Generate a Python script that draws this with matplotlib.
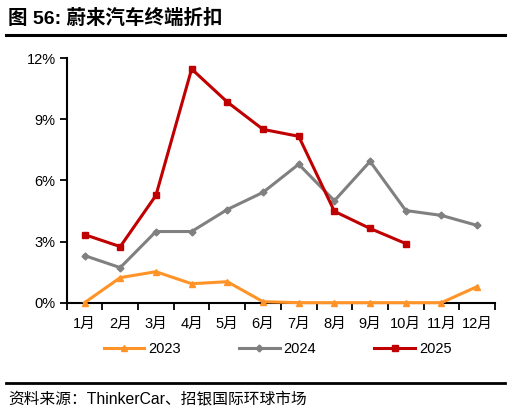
import matplotlib.pyplot as plt
from matplotlib.lines import Line2D
import numpy as np

plt.rcParams['font.family'] = ['Liberation Sans', 'Noto Sans CJK SC', 'DejaVu Sans']

months = ['1月', '2月', '3月', '4月', '5月', '6月', '7月', '8月', '9月', '10月', '11月', '12月']
disc_2023 = [0.0, 1.23, 1.52, 0.93, 1.03, 0.05, 0.0, 0.0, 0.0, 0.0, 0.0, 0.79]
disc_2024 = [2.31, 1.72, 3.49, 3.49, 4.57, 5.41, 6.79, 5.0, 6.93, 4.52, 4.28, 3.79]
disc_2025 = [3.34, 2.75, 5.26, 11.46, 9.84, 8.5, 8.16, 4.48, 3.64, 2.9]
yticks = [0, 3, 6, 9, 12]

W, H = 513, 416
fig = plt.figure(figsize=(W / 100, H / 100), dpi=100)
ax = fig.add_axes([66.7 / W, 1 - 302.7 / H, (495 - 66.7) / W, (302.7 - 58) / H])

x = np.arange(len(months))
ax.plot(x, disc_2023, color='#FF9327', lw=2.2, marker='^', ms=5, clip_on=False, zorder=3, label='2023')
ax.plot(x, disc_2024, color='#808080', lw=2.2, marker='D', ms=3.5, clip_on=False, zorder=3, label='2024')
ax.plot(x[:len(disc_2025)], disc_2025, color='#C00000', lw=2.2, marker='s', ms=4.5,
        clip_on=False, zorder=4, label='2025')

ax.set_xlim(-0.5, len(months) - 0.5)
ax.set_ylim(0, 12)
ax.set_yticks(yticks)
ax.set_yticklabels([f'{v}%' for v in yticks], fontsize=10.5)
ax.set_xticks(x)
ax.set_xticklabels(months, fontsize=10.5)
ax.set_xticks(np.arange(-0.5, len(months)), minor=True)
ax.tick_params(axis='x', which='major', length=0, pad=10)
ax.tick_params(axis='x', which='minor', length=5, width=1.3, direction='out')
ax.tick_params(axis='y', length=5, width=1.3, direction='out', pad=3)

for s in ['top', 'right']:
    ax.spines[s].set_visible(False)
for s in ['left', 'bottom']:
    ax.spines[s].set_linewidth(1.5)
    ax.spines[s].set_color('black')

leg = fig.legend(loc='center', bbox_to_anchor=(0.541, 1 - 349 / H), ncol=3, frameon=False,
                 fontsize=10.5, handlelength=2.8, columnspacing=4.0, handletextpad=0.25)

fig.text(8 / W, 1 - 18 / H, '图 56: 蔚来汽车终端折扣', fontsize=14, fontweight='bold',
         va='center', ha='left')
fig.add_artist(Line2D([6 / W, 505 / W], [1 - 35 / H, 1 - 35 / H], color='black', lw=2.2))
fig.add_artist(Line2D([6 / W, 505 / W], [1 - 383 / H, 1 - 383 / H], color='black', lw=2.0))
fig.text(8 / W, 1 - 399 / H, '资料来源：ThinkerCar、招银国际环球市场', fontsize=11.3,
         va='center', ha='left')

fig.savefig('out.png', dpi=100)
